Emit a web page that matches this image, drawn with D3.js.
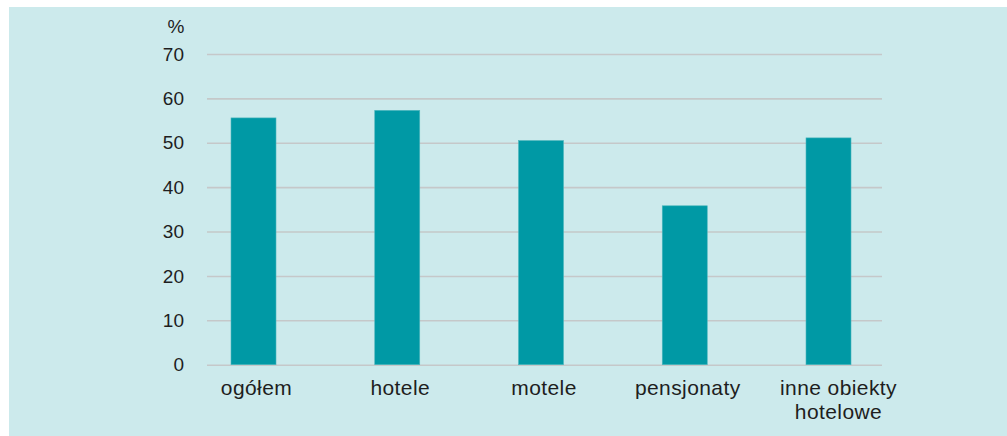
<!DOCTYPE html>
<html>
<head>
<meta charset="utf-8">
<script src="https://cdn.jsdelivr.net/npm/d3@7"></script>
<style>
  html, body { margin: 0; padding: 0; background: #ffffff; }
  svg { display: block; }
  text { font-family: "Liberation Sans", Arial, sans-serif; fill: #1e1e1e; }
</style>
</head>
<body>
<svg id="chart" width="1007" height="436"></svg>
<script>
const categories = ["ogółem", "hotele", "motele", "pensjonaty", "inne obiekty|hotelowe"];
const values = [55.6, 57.3, 50.5, 35.8, 51.1];
const yTicks = [0, 10, 20, 30, 40, 50, 60, 70];
const unitLabel = "%";

const svg = d3.select("#chart");

svg.append("rect")
  .attr("x", 9).attr("y", 7)
  .attr("width", 1007 - 9).attr("height", 436 - 7)
  .attr("fill", "#cceaec");

const y = d3.scaleLinear().domain([0, 70]).range([364.7, 54]);
const x = d3.scalePoint().domain(categories).range([253.5, 828.5]);
const barW = 45;
const gridX0 = 207, gridX1 = 882;

// gridlines via axis
const yAxis = d3.axisLeft(y).tickValues(yTicks).tickSize(-(gridX1 - gridX0)).tickPadding(23).tickFormat(d3.format("d"));
const gY = svg.append("g").attr("transform", `translate(${gridX0},0)`).call(yAxis);
gY.select(".domain").remove();
gY.selectAll(".tick line").attr("stroke", "#c5c8c9").attr("stroke-width", 1.6);
gY.selectAll(".tick text")
  .attr("font-size", 19)
  .attr("font-family", "Liberation Sans, Arial, sans-serif")
  .attr("fill", "#1e1e1e");

svg.append("text")
  .attr("x", 184.5).attr("y", 33)
  .attr("text-anchor", "end")
  .attr("font-size", 19)
  .text(unitLabel);

// bars
svg.append("g").selectAll("rect")
  .data(values)
  .join("rect")
  .attr("x", (d, i) => x(categories[i]) - barW / 2)
  .attr("y", d => y(d))
  .attr("width", barW)
  .attr("height", d => y(0) - y(d))
  .attr("fill", "#0099a5")
  .attr("stroke", "#4cb6bd")
  .attr("stroke-width", 0.6);

// x labels
const xl = svg.append("g").selectAll("text")
  .data(categories)
  .join("text")
  .attr("x", d => x(d) + (d.includes("|") ? 10 : 3))
  .attr("y", 395)
  .attr("text-anchor", "middle")
  .attr("font-size", 21)
  .attr("letter-spacing", 0.4);
xl.each(function(d) {
  const parts = d.split("|");
  const t = d3.select(this);
  parts.forEach((p, i) => {
    t.append("tspan")
      .attr("x", t.attr("x"))
      .attr("dy", i === 0 ? 0 : 23.5)
      .text(p);
  });
});
</script>
</body>
</html>
